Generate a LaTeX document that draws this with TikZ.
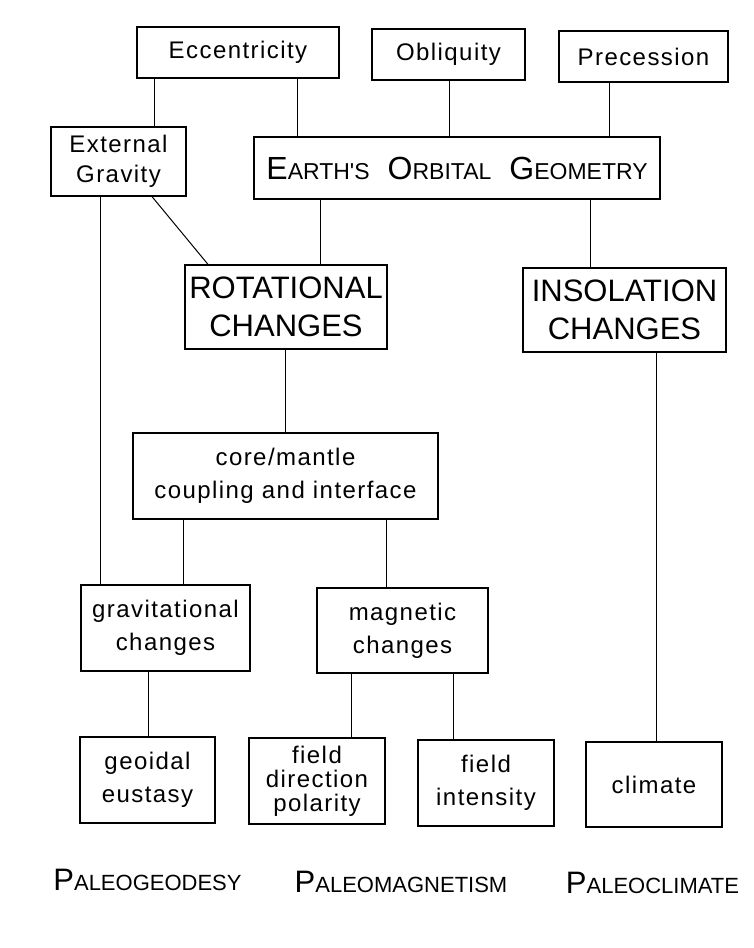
\documentclass[tikz,border=0pt]{standalone}
\usepackage{fontspec}
\setmainfont{Liberation Sans}
\newfontfamily\letterfont[LetterSpace=6]{Liberation Sans}
\newfontfamily\capsfont{Liberation Sans}
\usepackage{tikz}
\usetikzlibrary{positioning}

\newcommand{\smallfont}{\fontsize{24}{33}\letterfont}
\newcommand{\bigfont}{\fontsize{31}{38}\capsfont}
\newcommand{\fakesc}[2]{{\fontsize{32}{38}\capsfont #1}{\fontsize{23}{38}\capsfont #2}}
\newcommand{\labelsc}[2]{{\fontsize{31}{38}\capsfont #1}{\fontsize{22}{38}\capsfont #2}}

\begin{document}
\begin{tikzpicture}[x=1pt, y=-1pt,
		every node/.style={draw, line width=1.2pt, inner sep=0pt, align=center, font=\smallfont},
		big/.style={font=\bigfont},
		link/.style={line width=1pt}]
		\useasboundingbox (0,0) rectangle (753,948);
		
		% Nodes
		\node (ecc) [minimum width=202, minimum height=51] at (238,52.5) {Eccentricity};
		\node (obl) [minimum width=153, minimum height=51] at (448.5,54.5) {Obliquity};
		\node (prec) [minimum width=169, minimum height=51] at (643.5,56.5) {Precession};
		\node (extg) [minimum width=135, minimum height=69, font=\fontsize{24}{30}\letterfont] at (118.5,161.5) {External\\Gravity};
		\node (eog) [minimum width=406, minimum height=62] at (457,168) {\fakesc{E}{ARTH'S}\hspace{18pt}\fakesc{O}{RBITAL}\hspace{18pt}\fakesc{G}{EOMETRY}};
		\node (rot) [big, minimum width=202, minimum height=84] at (286,307) {ROTATIONAL\\CHANGES};
		\node (ins) [big, minimum width=203, minimum height=84] at (624.5,310) {INSOLATION\\CHANGES};
		\node (core) [minimum width=305, minimum height=86] at (285.5,476) {core/mantle\\coupling and interface};
		\node (grav) [minimum width=169, minimum height=86] at (165.5,628) {gravitational\\changes};
		\node (mag) [minimum width=171, minimum height=85] at (402.5,630.5) {magnetic\\changes};
		\node (geo) [minimum width=135, minimum height=86] at (147.5,780) {geoidal\\eustasy};
		\node (fdir) [minimum width=136, minimum height=86, font=\fontsize{24}{24}\letterfont] at (317,781) {field\\direction\\polarity};
		\node (fint) [minimum width=136, minimum height=86] at (486,783) {field\\intensity};
		\node (clim) [minimum width=136, minimum height=85] at (654,784.5) {climate};
		
		% Labels
		\node (geod) [draw=none] at (147.5,880) {\labelsc{P}{ALEOGEODESY}};
		\node (magn) [draw=none] at (401,882) {\labelsc{P}{ALEOMAGNETISM}};
		\node (paleo) [draw=none] at (652.5,883) {\labelsc{P}{ALEOCLIMATE}};
		
		% Edges
		\draw[link] (154,0 |- ecc.south) -- (154,0 |- extg.north);
		\draw[link] (297,0 |- ecc.south) -- (297,0 |- eog.north);
		\draw[link] (449,0 |- obl.south) -- (449,0 |- eog.north);
		\draw[link] (609,0 |- prec.south) -- (609,0 |- eog.north);
		\draw[link] (152,0 |- extg.south) -- (208,0 |- rot.north);
		\draw[link] (100,0 |- extg.south) -- (100,0 |- grav.north);
		\draw[link] (320,0 |- eog.south) -- (320,0 |- rot.north);
		\draw[link] (590,0 |- eog.south) -- (590,0 |- ins.north);
		\draw[link] (285,0 |- rot.south) -- (285,0 |- core.north);
		\draw[link] (656,0 |- ins.south) -- (656,0 |- clim.north);
		\draw[link] (183,0 |- core.south) -- (183,0 |- grav.north);
		\draw[link] (386,0 |- core.south) -- (386,0 |- mag.north);
		\draw[link] (148,0 |- grav.south) -- (148,0 |- geo.north);
		\draw[link] (351,0 |- mag.south) -- (351,0 |- fdir.north);
		\draw[link] (453,0 |- mag.south) -- (453,0 |- fint.north);
	\end{tikzpicture}
\end{document}
